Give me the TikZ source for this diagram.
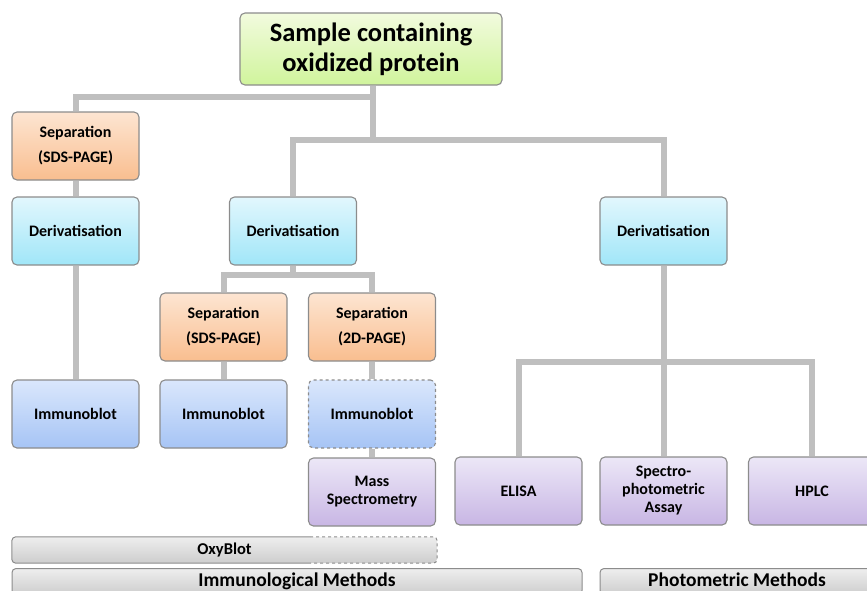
\documentclass[tikz,border=0pt]{standalone}
\usepackage{fontspec}
\setmainfont{Carlito}
\definecolor{bordergray}{HTML}{8C8C8C}
\definecolor{conngray}{HTML}{BFBFBF}
\tikzset{
  box/.style={draw=bordergray, line width=1.1pt, rounded corners=5pt, minimum width=127pt, minimum height=68pt, align=center, inner sep=2pt, font=\bfseries\fontsize{16}{18}\selectfont},
  wide/.style={font=\bfseries\fontsize{16}{25}\selectfont},
  green/.style={top color={rgb,255:red,242;green,251;blue,222}, bottom color={rgb,255:red,208;green,244;blue,156}},
  orange/.style={top color={rgb,255:red,253;green,229;blue,210}, bottom color={rgb,255:red,249;green,190;blue,143}},
  cyan/.style={top color={rgb,255:red,226;green,247;blue,253}, bottom color={rgb,255:red,160;green,230;blue,248}},
  blue/.style={top color={rgb,255:red,218;green,231;blue,252}, bottom color={rgb,255:red,166;green,196;blue,245}},
  purple/.style={top color={rgb,255:red,236;green,231;blue,247}, bottom color={rgb,255:red,200;green,182;blue,228}},
  bar/.style={rounded corners=4pt, top color={rgb,255:red,238;green,238;blue,238}, bottom color={rgb,255:red,205;green,205;blue,205}, inner sep=0pt},
  bartext/.style={font=\bfseries\fontsize{19.5}{20}\selectfont, text height=13pt, text depth=3pt},
  conn/.style={draw=conngray, line width=6pt},
}
\begin{document}
\begin{tikzpicture}[x=1pt,y=-1pt]
\useasboundingbox (0,0) rectangle (867,590);
\clip (0,0) rectangle (867,590);
% connector junctions
\coordinate (j0) at (373,97);
\coordinate (j1) at (373,140);
\coordinate (j2) at (293,275);
\coordinate (j3) at (663.5,362);
% nodes
\node[box, green, minimum width=262pt, minimum height=72pt, font=\bfseries\fontsize{26.5}{30}\selectfont] (top) at (371,49) {Sample containing\\oxidized protein};
\node[box, orange, wide] (sep1) at (75.5,146) {Separation\\(SDS-PAGE)};
\node[box, cyan] (der1) at (75.5,231) {Derivatisation};
\node[box, blue] (imm1) at (75.5,414) {Immunoblot};
\node[box, cyan] (der2) at (293,231) {Derivatisation};
\node[box, orange, wide] (sep2) at (223.5,327) {Separation\\(SDS-PAGE)};
\node[box, orange, wide] (sep3) at (372,327) {Separation\\(2D-PAGE)};
\node[box, blue] (imm2) at (223.5,414) {Immunoblot};
\node[box, blue, dashed] (imm3) at (372,414) {Immunoblot};
\node[box, purple] (ms) at (372,492) {Mass\\Spectrometry};
\node[box, cyan] (der3) at (663.5,231) {Derivatisation};
\node[box, purple] (elisa) at (518.5,491) {ELISA};
\node[box, purple] (spec) at (663.5,491) {Spectro-\\photometric\\Assay};
\node[box, purple] (hplc) at (812,491) {HPLC};
% connectors
\draw[conn] (top.south -| j1) -- (j1);
\draw[conn] (j0) -| (sep1.north);
\draw[conn] (sep1.south) -- (der1.north);
\draw[conn] (der1.south) -- (imm1.north);
\draw[conn] (j1) -| (der2.north);
\draw[conn] (j1) -| (der3.north);
\draw[conn] (der2.south) -- (j2);
\draw[conn] (j2) -| (sep2.north);
\draw[conn] (j2) -| (sep3.north);
\draw[conn] (sep2.south) -- (imm2.north);
\draw[conn] (sep3.south) -- (imm3.north);
\draw[conn] (imm3.south) -- (ms.north);
\draw[conn] (der3.south) -- (j3);
\draw[conn] (j3) -| (elisa.north);
\draw[conn] (j3) -- (spec.north);
\draw[conn] (j3) -| (hplc.north);
% bars
\node[bar, minimum width=425pt, minimum height=26pt, font=\bfseries\fontsize{16.5}{18}\selectfont] (oxy) at (224.5,550) {OxyBlot};
\coordinate (oxs) at (310,537);
\draw[draw=bordergray, line width=1pt, rounded corners=4pt] (oxs |- oxy.south) -- (oxy.south west) -- (oxy.north west) -- (oxs |- oxy.north);
\draw[draw=bordergray, line width=1pt, rounded corners=4pt, dashed] (oxs |- oxy.north) -- (oxy.north east) -- (oxy.south east) -- (oxs |- oxy.south);
\node[bar, bartext, draw=bordergray, line width=1pt, minimum width=570pt, minimum height=26pt] (immu) at (297,581.5) {Immunological Methods};
\node[bar, bartext, draw=bordergray, line width=1pt, minimum width=280pt, minimum height=26pt] (photo) at (740,581.5) {\hspace*{-6pt}Photometric Methods};
\end{tikzpicture}
\end{document}
